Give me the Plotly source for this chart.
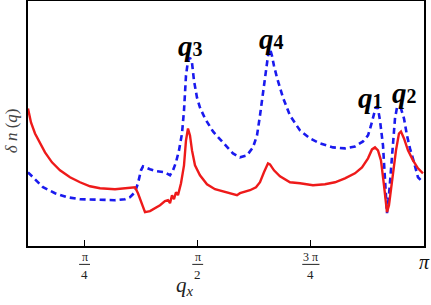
import numpy as np
import plotly.graph_objects as go

PI = np.pi

# q_x in units of pi, delta n(q) in arbitrary units
red_qx = [0.125, 0.1316, 0.1405, 0.1515, 0.1626, 0.1780, 0.1957, 0.2178, 0.2399, 0.2620, 0.2841,
          0.3172, 0.3504, 0.3614, 0.3680, 0.3769, 0.3835, 0.3946, 0.4167, 0.4277, 0.4343, 0.4388,
          0.4432, 0.4476, 0.4520, 0.4564, 0.4631, 0.4697, 0.4741, 0.4785, 0.4829, 0.4874, 0.4940,
          0.5050, 0.5205, 0.5382, 0.5603, 0.5868, 0.5934, 0.6155, 0.6288, 0.6376, 0.6464, 0.6553,
          0.6597, 0.6685, 0.6818, 0.7039, 0.7260, 0.7547, 0.7812, 0.8033, 0.8254, 0.8475, 0.8630,
          0.8763, 0.8851, 0.8917, 0.8983, 0.9049, 0.9116, 0.9182, 0.9226, 0.9292, 0.9381, 0.9447,
          0.9491, 0.9558, 0.9646, 0.9757, 0.9867, 0.9977]
red_dn = [138, 124, 113, 103, 94, 84, 76, 69, 64, 60, 58,
          57, 58, 59, 53, 41, 34, 35, 41, 45, 46, 43,
          51, 47, 54, 51, 63, 81, 106, 118, 111, 96, 81,
          71, 62, 57, 54, 51, 53, 56, 59, 64, 74, 83,
          82, 76, 70, 64, 63, 61, 62, 64, 68, 73, 79,
          88, 97, 99, 96, 86, 61, 34, 41, 66, 96, 113,
          115, 108, 96, 86, 78, 73]

blue_qx = [0.125, 0.1405, 0.1582, 0.1847, 0.2112, 0.2399, 0.2841, 0.3172, 0.3393, 0.3504, 0.3614,
           0.3680, 0.3747, 0.3791, 0.3946, 0.4100, 0.4277, 0.4388, 0.4454, 0.4520, 0.4586, 0.4653,
           0.4697, 0.4741, 0.4785, 0.4829, 0.4874, 0.4918, 0.4984, 0.5050, 0.5161, 0.5338, 0.5537,
           0.5780, 0.5934, 0.6089, 0.6221, 0.6310, 0.6376, 0.6442, 0.6509, 0.6553, 0.6597, 0.6641,
           0.6685, 0.6752, 0.6884, 0.7039, 0.7260, 0.7481, 0.7702, 0.7989, 0.8254, 0.8475, 0.8652,
           0.8763, 0.8829, 0.8895, 0.8939, 0.8983, 0.9028, 0.9094, 0.9138, 0.9182, 0.9226, 0.9271,
           0.9315, 0.9359, 0.9403, 0.9447, 0.9491, 0.9558, 0.9624, 0.9690, 0.9779, 0.9867, 0.9977]
blue_dn = [74, 67, 59, 53, 49, 47, 46, 46, 47, 49, 54,
           63, 76, 80, 77, 75, 74, 71, 76, 84, 96, 113,
           136, 171, 186, 189, 184, 166, 149, 139, 128, 115, 105,
           93, 89, 91, 99, 111, 131, 153, 176, 191, 198, 191,
           181, 169, 149, 131, 116, 108, 103, 99, 98, 100, 105,
           111, 121, 133, 140, 138, 126, 101, 66, 33, 51, 76,
           101, 128, 139, 140, 138, 128, 111, 98, 84, 69, 64]

tick_vals = [0.25, 0.5, 0.75]
tick_nums = ["π", "π", "3 π"]
tick_dens = ["4", "2", "4"]
end_tick = 1.0

peak_labels = ["3", "4", "1", "2"]
peak_qx = [0.483, 0.664, 0.881, 0.956]
peak_dn = [201, 208, 149, 154]

serif = "Liberation Serif"

fig = go.Figure()
fig.add_trace(go.Scatter(x=[v * PI for v in blue_qx], y=blue_dn, mode="lines",
                         line=dict(color="#1a1aee", width=2.6, dash="6px,4px"),
                         showlegend=False))
fig.add_trace(go.Scatter(x=[v * PI for v in red_qx], y=red_dn, mode="lines",
                         line=dict(color="#ee1a1a", width=2.4),
                         showlegend=False))

for v, n, d in zip(tick_vals, tick_nums, tick_dens):
    fig.add_annotation(x=v * PI, y=-0.045, xref="x", yref="paper", text=n, showarrow=False,
                       font=dict(family=serif, size=12, color="#222"), yanchor="middle")
    fig.add_annotation(x=v * PI, y=-0.118, xref="x", yref="paper", text=d, showarrow=False,
                       font=dict(family=serif, size=13, color="#222"), yanchor="middle")
    w = 0.012 if len(n) == 1 else 0.019
    fig.add_shape(type="line", x0=(v - w) * PI, x1=(v + w) * PI, y0=-0.075, y1=-0.075,
                  xref="x", yref="paper", line=dict(color="#222", width=1))
fig.add_annotation(x=end_tick * PI, y=-0.065, xref="x", yref="paper", text="<i>π</i>",
                   showarrow=False, font=dict(family=serif, size=20, color="#111"),
                   yanchor="middle")

for sub, xv, yv in zip(peak_labels, peak_qx, peak_dn):
    fig.add_annotation(x=xv * PI, y=yv, xref="x", yref="y",
                       text=f"<b><i>q</i></b><b><span style='font-size:20px'>{sub}</span></b>",
                       showarrow=False, font=dict(family=serif, size=29, color="black"))

fig.add_annotation(x=0.396, y=-0.165, xref="paper", yref="paper",
                   text="<i>q<sub>x</sub></i>", showarrow=False,
                   font=dict(family=serif, size=21, color="#222"), yanchor="middle")
fig.add_annotation(x=-0.042, y=0.47, xref="paper", yref="paper", text="<i>δ n</i> (<i>q</i>)",
                   textangle=-90, showarrow=False, font=dict(family=serif, size=17, color="#444"),
                   xanchor="center", yanchor="middle")

fig.update_xaxes(range=[0.125 * PI, PI], showgrid=False, zeroline=False, showline=True,
                 linecolor="black", linewidth=1.5, mirror=True, ticks="inside", ticklen=6,
                 tickcolor="black", tickvals=[v * PI for v in tick_vals], showticklabels=False)
fig.update_yaxes(range=[0, 246], showgrid=False, zeroline=False, showline=True,
                 linecolor="black", linewidth=1.5, mirror=True, showticklabels=False, ticks="")
fig.update_layout(width=431, height=305, margin=dict(l=28, r=7, t=1, b=59, autoexpand=False),
                  plot_bgcolor="white", paper_bgcolor="white")
fig.write_html("out.html", config={"displayModeBar": False},
               post_script="document.body.style.margin='0';")
